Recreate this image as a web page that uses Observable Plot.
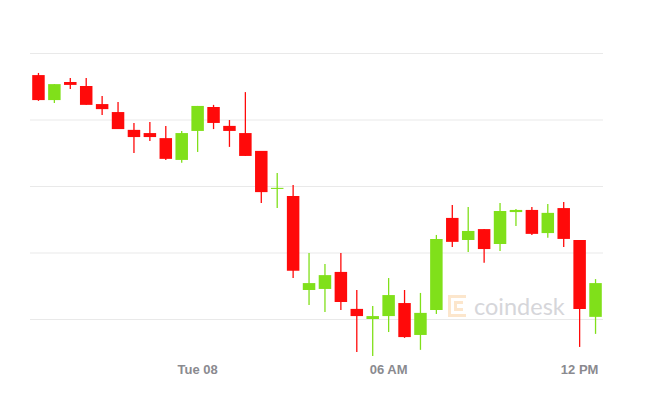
<!DOCTYPE html>
<html>
<head>
<meta charset="utf-8">
<script src="https://cdn.jsdelivr.net/npm/d3@7"></script>
<script src="https://cdn.jsdelivr.net/npm/@observablehq/plot@0.6"></script>
<style>
  html, body { margin: 0; padding: 0; background: #fff; }
  #wrap { position: relative; width: 650px; height: 407px; }
  #mark { position: absolute; left: 446px; top: 292px; display: flex; align-items: center; pointer-events: none; }
  #mark span { font-family: Lato, "Open Sans", sans-serif; font-size: 23.5px; color: #d6d6da; margin-left: 6px; }
</style>
</head>
<body>
<div id="wrap">
  <div id="chart"></div>
  <div id="mark">
    <svg width="22" height="26" viewBox="0 0 22 26">
      <g fill="#fce6cc">
        <rect x="2" y="2" width="18" height="3"/>
        <rect x="2" y="2" width="3" height="22"/>
        <rect x="2" y="21" width="18" height="3"/>
        <rect x="8" y="8" width="3" height="10"/>
        <rect x="8" y="8" width="9" height="3"/>
        <rect x="8" y="15" width="9" height="3"/>
      </g>
    </svg>
    <span>coindesk</span>
  </div>
</div>
<script>
const times = [
  "2022-03-07T19:00Z","2022-03-07T19:30Z","2022-03-07T20:00Z","2022-03-07T20:30Z",
  "2022-03-07T21:00Z","2022-03-07T21:30Z","2022-03-07T22:00Z","2022-03-07T22:30Z",
  "2022-03-07T23:00Z","2022-03-07T23:30Z","2022-03-08T00:00Z","2022-03-08T00:30Z",
  "2022-03-08T01:00Z","2022-03-08T01:30Z","2022-03-08T02:00Z","2022-03-08T02:30Z",
  "2022-03-08T03:00Z","2022-03-08T03:30Z","2022-03-08T04:00Z","2022-03-08T04:30Z",
  "2022-03-08T05:00Z","2022-03-08T05:30Z","2022-03-08T06:00Z","2022-03-08T06:30Z",
  "2022-03-08T07:00Z","2022-03-08T07:30Z","2022-03-08T08:00Z","2022-03-08T08:30Z",
  "2022-03-08T09:00Z","2022-03-08T09:30Z","2022-03-08T10:00Z","2022-03-08T10:30Z",
  "2022-03-08T11:00Z","2022-03-08T11:30Z","2022-03-08T12:00Z","2022-03-08T12:30Z"
];
const open  = [38417,38323,38391,38376,38308,38278,38211,38199,38180,38098,38207,38297,38226,38199,38132,37989,37962,37609,37613,37677,37538,37500,37511,37560,37440,37534,37880,37797,37838,37782,37902,37910,37823,37917,37797,37508];
const close = [38323,38383,38380,38305,38289,38214,38184,38184,38102,38199,38301,38237,38207,38113,37977,37993,37681,37635,37665,37564,37511,37511,37590,37432,37523,37801,37790,37831,37763,37906,37910,37820,37899,37801,37538,37635];
const high  = [38425,38383,38406,38406,38338,38316,38237,38241,38226,38207,38301,38305,38248,38353,38132,38049,38004,37748,37707,37748,37609,37549,37654,37609,37598,37816,37929,37921,37838,37936,37914,37921,37932,37940,37797,37650];
const low   = [38320,38312,38365,38305,38267,38214,38124,38169,38098,38087,38128,38214,38147,38113,37936,37917,37654,37553,37526,37534,37376,37361,37451,37429,37384,37519,37771,37752,37711,37756,37850,37816,37805,37771,37395,37444];
const gridValues = [37500, 37750, 38000, 38250, 38500];
const tickTimes = ["2022-03-08T00:00Z", "2022-03-08T06:00Z", "2022-03-08T12:00Z"];
const tickLabels = ["Tue 08", "06 AM", "12 PM"];
const xDomain = ["2022-03-07T18:45Z", "2022-03-08T12:45Z"];

const UP = "#80e01a", DOWN = "#ff0a0a";
const data = times.map((t, i) => ({
  date: new Date(t), open: open[i], close: close[i], high: high[i], low: low[i],
  up: close[i] >= open[i]
}));
const ticks = tickTimes.map(t => new Date(t));

const chart = Plot.plot({
  width: 650,
  height: 407,
  marginTop: 53,
  marginBottom: 88,
  marginLeft: 30,
  marginRight: 47,
  style: { background: "#fff", fontFamily: "'Liberation Sans', Arial, sans-serif" },
  x: { type: "utc", domain: xDomain.map(d => new Date(d)) },
  y: { domain: [37500, 38500] },
  marks: [
    Plot.gridY(gridValues, { stroke: "#e9e9e9", strokeOpacity: 1, strokeWidth: 1 }),
    Plot.ruleX(data, { x: "date", y1: "low", y2: "high", stroke: d => d.up ? UP : DOWN, strokeWidth: 1.3 }),
    Plot.ruleX(data, { x: "date", y1: "open", y2: d => Math.abs(d.close - d.open) < 3 ? d.open + (d.up ? 3 : -3) : d.close, stroke: d => d.up ? UP : DOWN, strokeWidth: 12.5 }),
    Plot.axisX(ticks, {
      tickSize: 0, tickPadding: 45,
      tickFormat: (d) => tickLabels[ticks.findIndex(t => +t === +d)],
      fontSize: 13, fontWeight: "bold", fill: "#8a8a8f", label: null
    }),
    Plot.axisY({ ticks: [], label: null, tickSize: 0 })
  ]
});
document.getElementById("chart").appendChild(chart);
</script>
</body>
</html>
